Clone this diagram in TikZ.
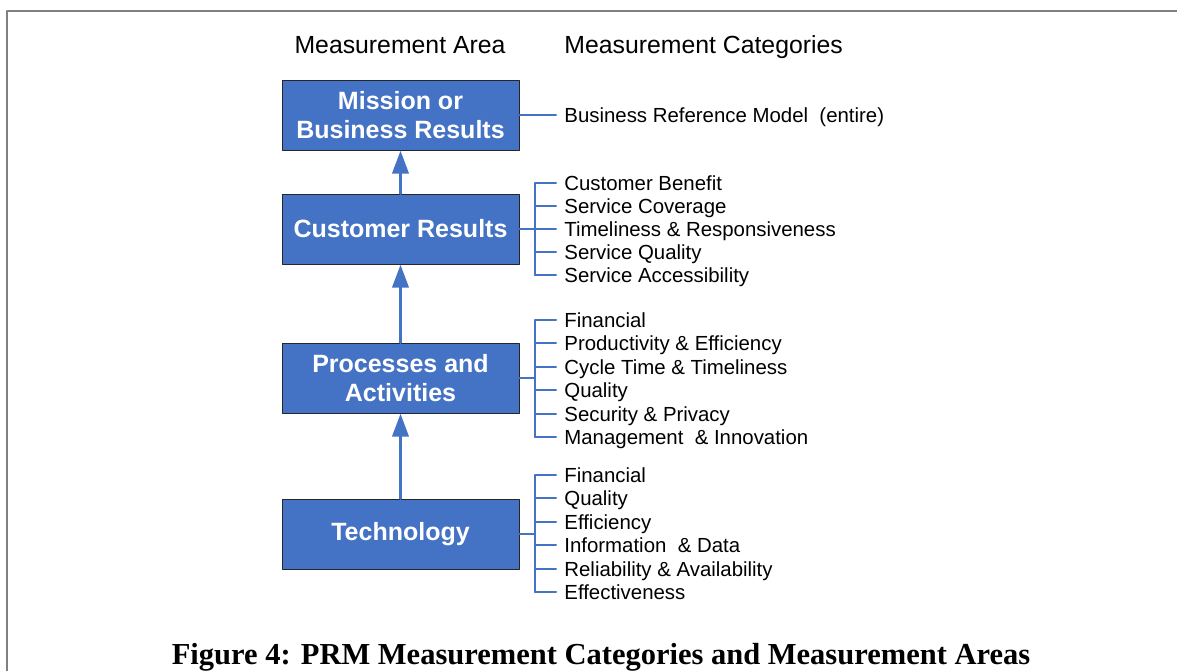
\documentclass[tikz,border=0pt]{standalone}
\usepackage{fontspec}
\setmainfont{Liberation Sans}
\newfontfamily\capfont{Liberation Serif}
\usetikzlibrary{arrows.meta}
\definecolor{areablue}{RGB}{68,114,196}
\definecolor{framegray}{RGB}{128,128,128}
\begin{document}
\begin{tikzpicture}[x=0.5pt, y=-0.5pt, line cap=round, line join=round,
  area/.style={draw=black!85, line width=0.5pt, fill=areablue, text=white, align=center, inner sep=0pt,
    minimum width=118.5pt, minimum height=35pt, font=\fontsize{12.5}{14.5}\selectfont\bfseries},
  cat/.style={anchor=west, inner xsep=4pt, inner ysep=0pt, text height=9.4pt, text depth=2pt, font=\fontsize{10.2}{12}\selectfont},
  head/.style={inner sep=0pt, text height=11.8pt, text depth=2.6pt, font=\fontsize{12.4}{14}\selectfont},
  link/.style={draw=areablue, line width=1pt},
  up/.style={draw=areablue, line width=1.75pt, -{Triangle[width=8pt,length=11.5pt]}}]
\useasboundingbox (0,0) rectangle (1177,671);
\draw[framegray, line width=1pt, line cap=butt] (7,671)--(7,11)--(1177,11);

\node[head] (hArea) at (400,44) {Measurement Area};
\node[head, anchor=west] (hCat) at (564,44) {Measurement Categories};

\node[area] (mission) at (400.5,115) {Mission or\\Business Results};
\node[area] (customer) at (400.5,229) {Customer Results};
\node[area] (process) at (400.5,378) {Processes and\\Activities};
\node[area] (tech) at (400.5,534) {Technology};

\draw[up] (customer)--(mission);
\draw[up] (process)--(customer);
\draw[up] (tech)--(process);

\node[cat] (brm) at (556,115) {Business Reference Model\ \ (entire)};
\draw[link] (mission)--(brm);

\foreach \t [count=\i] in {Customer Benefit, Service Coverage, Timeliness \& Responsiveness, Service Quality, Service Accessibility}
  \node[cat] (cr\i) at (556,{183+23*(\i-1)}) {\t};
\coordinate (crs) at (535,229);
\draw[link] (customer)--(crs) (crs|-cr1.west)--(crs|-cr5.west);
\foreach \i in {1,...,5} \draw[link] (crs|-cr\i.west)--(cr\i.west);

\foreach \t [count=\i] in {Financial, Productivity \& Efficiency, Cycle Time \& Timeliness, Quality, Security \& Privacy, Management\ \ \& Innovation}
  \node[cat] (pa\i) at (556,{320+23.4*(\i-1)}) {\t};
\coordinate (pas) at (535,378);
\draw[link] (process)--(pas) (pas|-pa1.west)--(pas|-pa6.west);
\foreach \i in {1,...,6} \draw[link] (pas|-pa\i.west)--(pa\i.west);

\foreach \t [count=\i] in {Financial, Quality, Efficiency, Information\ \ \& Data, Reliability \& Availability, Effectiveness}
  \node[cat] (te\i) at (556,{475+23.4*(\i-1)}) {\t};
\coordinate (tes) at (535,534);
\draw[link] (tech)--(tes) (tes|-te1.west)--(tes|-te6.west);
\foreach \i in {1,...,6} \draw[link] (tes|-te\i.west)--(te\i.west);

\node[inner sep=0pt, font=\capfont\bfseries\fontsize{15.25}{17}\selectfont] (caption) at (601,657) {Figure 4: PRM Measurement Categories and Measurement Areas};
\end{tikzpicture}
\end{document}
